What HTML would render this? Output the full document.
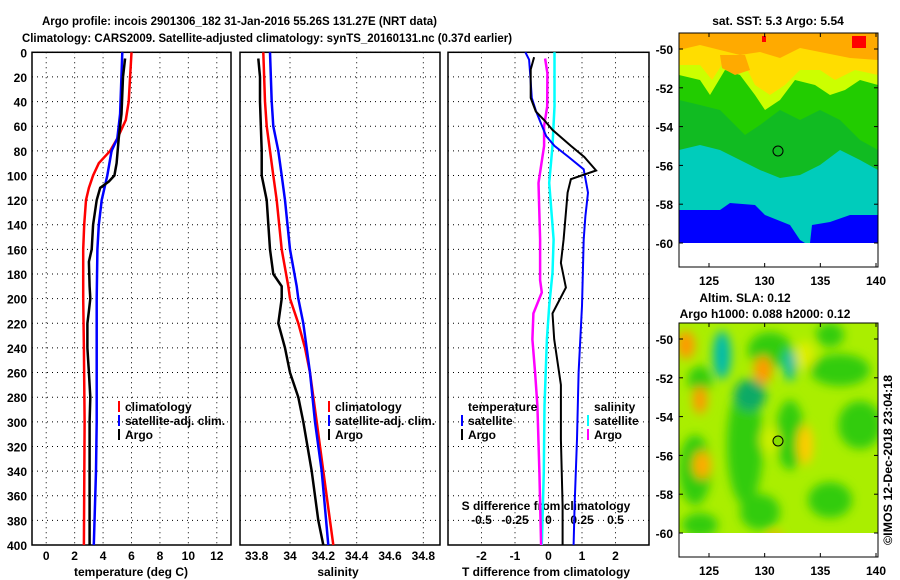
<!DOCTYPE html>
<html><head><meta charset="utf-8"><style>
body{margin:0;background:#fff;width:900px;height:580px;overflow:hidden}
svg{display:block}
text{font-family:"Liberation Sans",sans-serif;font-weight:bold;font-size:12px;fill:#000}
</style></head><body>
<svg id="chart" width="900" height="580" viewBox="0 0 900 580" xmlns="http://www.w3.org/2000/svg">
<defs>
<filter id="blur" x="-30%" y="-30%" width="160%" height="160%"><feGaussianBlur stdDeviation="5"/></filter>
<clipPath id="clipTop"><rect x="679" y="33" width="199" height="210"/></clipPath>
<clipPath id="clipBot"><rect x="679" y="323" width="199" height="210"/></clipPath>
</defs>
<text x="42" y="25" textLength="395" lengthAdjust="spacingAndGlyphs" font-size="13">Argo profile: incois 2901306_182 31-Jan-2016 55.26S 131.27E (NRT data)</text>
<text x="22" y="42" textLength="490" lengthAdjust="spacingAndGlyphs" font-size="13">Climatology: CARS2009. Satellite-adjusted climatology: synTS_20160131.nc (0.37d earlier)</text>

<!-- top map -->
<g clip-path="url(#clipTop)">
<rect x="679" y="33" width="199" height="210" fill="#00ccbb"/>
<path d="M679 33H878V170L860 160L840 150L820 165L800 175L780 178L760 170L740 160L720 150L700 145L679 150Z" fill="#11bb22"/>
<path d="M679 33H878V150L860 140L840 120L820 110L800 120L780 110L760 125L745 135L730 120L720 110L700 105L679 100Z" fill="#22cc00"/>
<path d="M679 33H878V85L860 80L845 90L830 95L815 85L795 80L780 100L765 110L755 95L740 75L725 70L710 95L700 80L679 75Z" fill="#ccff00"/>
<path d="M679 33H878V75L855 70L835 80L820 70L800 70L785 85L770 95L755 85L745 65L725 60L712 80L700 65L679 65Z" fill="#ffdd00"/>
<path d="M679 33H878V60L850 58L820 52L800 48L780 58L760 52L740 55L720 50L700 45L679 50Z" fill="#ffaa00"/>
<path d="M720 55L745 55L750 70L735 75L722 68Z" fill="#ffaa00"/>
<rect x="852" y="36" width="14" height="12" fill="#ff0000"/>
<rect x="762" y="36" width="4" height="6" fill="#ff0000"/>
<path d="M679 210L720 210L730 203L755 205L765 215L790 225L800 240L805 243L679 243Z" fill="#0000ff"/>
<path d="M810 243L812 225L830 222L850 215L878 215L878 243Z" fill="#0000ff"/>
<circle cx="778" cy="151" r="5" fill="none" stroke="#000" stroke-width="1"/>
</g>
<rect x="679" y="33" width="199" height="234" fill="none" stroke="#000"/>
<text x="778" y="25" text-anchor="middle">sat. SST: 5.3 Argo: 5.54</text>

<!-- bottom map -->
<g clip-path="url(#clipBot)">
<rect x="679" y="323" width="199" height="210" fill="#aaee00"/>
<g filter="url(#blur)">
<ellipse cx="695" cy="470" rx="16" ry="35" fill="#33cc11"/>
<ellipse cx="745" cy="445" rx="18" ry="60" fill="#33cc11"/>
<ellipse cx="790" cy="435" rx="14" ry="35" fill="#33cc11"/>
<ellipse cx="770" cy="350" rx="22" ry="18" fill="#33cc11"/>
<ellipse cx="840" cy="370" rx="30" ry="16" fill="#33cc11"/>
<ellipse cx="860" cy="425" rx="22" ry="24" fill="#33cc11"/>
<ellipse cx="830" cy="500" rx="22" ry="18" fill="#33cc11"/>
<ellipse cx="760" cy="512" rx="20" ry="18" fill="#33cc11"/>
<ellipse cx="700" cy="525" rx="18" ry="12" fill="#33cc11"/>
<ellipse cx="700" cy="380" rx="12" ry="14" fill="#33cc11"/>
<ellipse cx="830" cy="335" rx="14" ry="12" fill="#33cc11"/>
<ellipse cx="750" cy="395" rx="16" ry="16" fill="#11aa66"/>
<ellipse cx="722" cy="355" rx="9" ry="24" fill="#00bbaa"/>
<ellipse cx="790" cy="365" rx="6" ry="16" fill="#00bbaa"/>
<ellipse cx="686" cy="345" rx="9" ry="14" fill="#ff9900"/>
<ellipse cx="700" cy="400" rx="7" ry="14" fill="#ff9900"/>
<ellipse cx="702" cy="465" rx="9" ry="14" fill="#ffaa00"/>
<ellipse cx="763" cy="370" rx="9" ry="14" fill="#ff9900"/>
<ellipse cx="805" cy="445" rx="8" ry="20" fill="#ffcc00"/>
<ellipse cx="775" cy="540" rx="8" ry="8" fill="#ffaa00"/>
<ellipse cx="805" cy="355" rx="10" ry="14" fill="#ddee00"/>
<ellipse cx="770" cy="440" rx="10" ry="14" fill="#ccf000"/>
</g>
<circle cx="778" cy="441" r="5" fill="#88dd00" stroke="#000" stroke-width="1"/>
</g>
<rect x="679" y="323" width="199" height="234" fill="none" stroke="#000"/>
<text x="745" y="302" text-anchor="middle">Altim. SLA: 0.12</text>
<text x="765" y="318" text-anchor="middle">Argo h1000: 0.088 h2000: 0.12</text>
<text x="0" y="0" font-weight="normal" transform="translate(892,545) rotate(-90)" textLength="170" lengthAdjust="spacingAndGlyphs">©IMOS 12-Dec-2018 23:04:18</text>
</svg>
<script>
// depth levels and series values
const tDepth=[0,20,40,55,70,80,90,100,110,120,140,160,200,240,300,400];
const tClim=[6.0,5.9,5.8,5.6,5.0,4.5,3.7,3.3,3.0,2.8,2.67,2.6,2.6,2.65,2.7,2.65];
const tSatDepth=[0,50,70,80,100,120,140,160,200,300,340,400];
const tSat=[5.35,5.2,5.0,4.6,4.3,3.9,3.7,3.6,3.55,3.55,3.5,3.35];
const tArgoDepth=[5,20,50,70,90,100,105,110,120,140,160,170,190,200,210,220,240,260,280,300,400];
const tArgo=[5.55,5.4,5.3,5.1,4.95,4.8,4.4,3.8,3.55,3.3,3.2,3.0,3.05,3.1,3.0,2.9,2.9,3.0,3.1,3.05,3.05];
const sArgoDepth=[5,20,40,80,100,120,160,180,190,200,220,240,260,280,300,340,380,400];
const sArgo=[33.81,33.82,33.82,33.83,33.83,33.86,33.88,33.9,33.95,33.95,33.93,33.97,34.0,34.05,34.08,34.13,34.17,34.2];
const sClimDepth=[0,40,60,80,100,120,160,190,200,220,240,260,300,340,400];
const sClim=[33.84,33.85,33.86,33.88,33.9,33.92,33.95,33.99,34.0,34.05,34.09,34.12,34.16,34.2,34.26];
const sSatDepth=[0,40,60,80,100,120,160,190,200,220,260,300,340,400];
const sSat=[33.88,33.89,33.9,33.93,33.95,33.97,34.0,34.04,34.05,34.08,34.12,34.15,34.19,34.23];
const dTSatDepth=[0,6,17,37,48,58,68,76,85,95,114,133,152,206,260,314,368,400];
const dTSat=[-0.69,-0.58,-0.55,-0.5,-0.37,-0.22,-0.07,0.18,0.6,1.05,1.18,1.1,1.05,1.0,0.9,0.85,0.78,0.75];
const dTArgoDepth=[4,14,37,48,55,63,76,85,96,103,114,152,171,191,212,233,270,314,368,400];
const dTArgo=[-0.43,-0.53,-0.53,-0.38,-0.13,0.12,0.67,1.07,1.42,0.67,0.57,0.45,0.37,0.52,0.12,0.17,0.37,0.37,0.42,0.42];
const dSSatDepth=[0,44,76,106,152,179,206,233,287,341,400];
const dSSat=[0.045,0.045,0.03,0.005,0.038,0.03,0.005,-0.012,-0.03,-0.035,-0.05];
const dSArgoDepth=[5,17,44,60,76,106,152,185,195,212,233,260,287,341,400];
const dSArgo=[-0.025,-0.008,-0.01,-0.033,-0.033,-0.075,-0.063,-0.063,-0.05,-0.113,-0.12,-0.1,-0.083,-0.068,-0.055];
const depthTicks=[0,20,40,60,80,100,120,140,160,180,200,220,240,260,280,300,320,340,360,380,400];
const tTicks=[0,2,4,6,8,10,12];
const sTicks=[33.8,34,34.2,34.4,34.6,34.8];
const sTickLabels=["33.8","34","34.2","34.4","34.6","34.8"];
const dTTicks=[-2,-1,0,1,2];
const dSTicks=[-0.5,-0.25,0,0.25,0.5];
const latTicks=[-50,-52,-54,-56,-58,-60];
const lonTicks=[125,130,135,140];

const svg=document.getElementById('chart');
const NS='http://www.w3.org/2000/svg';
function mk(tag,at,parent){const e=document.createElementNS(NS,tag);for(const k in at)e.setAttribute(k,at[k]);(parent||svg).appendChild(e);return e;}
const Y0=52.3,Y1=545;
function yD(d){return Y0+(Y1-Y0)*d/400;}
function lin(d0,d1,p0,p1){return v=>p0+(v-d0)*(p1-p0)/(d1-d0);}
const panels=[
 {x0:32,x1:231,x:lin(-1,13,32,231),name:'temperature'},
 {x0:240,x1:440,x:lin(33.7,34.9,240,440),name:'salinity'},
 {x0:448,x1:649,x:lin(-3,3,448,649),name:'difference'}];
const xS=lin(-0.75,0.75,448,649);

panels.forEach((p,i)=>{
 const g=mk('g',{});
 
 
 depthTicks.forEach(d=>{
  const l=mk('line',{x1:p.x0,x2:p.x1,y1:yD(d),y2:yD(d),stroke:'#000','stroke-width':1,'stroke-dasharray':'1,4'},g);
  
  
 });
 let vt=i==0?tTicks:i==1?[34,34.4,34.8]:dTTicks;
 vt.forEach(v=>{
  const l=mk('line',{x1:p.x(v),x2:p.x(v),y1:Y0,y2:Y1,stroke:'#000','stroke-width':1,'stroke-dasharray':'1,4'},g);
  
  
 });
 const f=mk('rect',{x:p.x0,y:Y0,width:p.x1-p.x0,height:Y1-Y0,fill:'none',stroke:'#000','stroke-width':1.5},g);
 
 
});
depthTicks.forEach(d=>{
 const t=mk('text',{x:27,y:yD(d)+5,'text-anchor':'end'});
 t.textContent=d;
 
 
});
tTicks.forEach(v=>{const t=mk('text',{x:panels[0].x(v),y:560,'text-anchor':'middle'});t.textContent=v;
 
 });
sTicks.forEach((v,i)=>{const t=mk('text',{x:panels[1].x(v),y:560,'text-anchor':'middle'});t.textContent=sTickLabels[i];
 
 });
dTTicks.forEach(v=>{const t=mk('text',{x:panels[2].x(v),y:560,'text-anchor':'middle'});t.textContent=v;
 
 });
dSTicks.forEach(v=>{const t=mk('text',{x:xS(v),y:524,'text-anchor':'middle'});t.textContent=v;
 
 });
[['temperature (deg C)',131,576,'x-axis-title-temperature'],['salinity',338,576,'x-axis-title-salinity'],['T difference from climatology',546,576,'x-axis-title-t-diff'],['S difference from climatology',546,510,'x-axis-title-s-diff']].forEach(a=>{
 const t=mk('text',{x:a[1],y:a[2],'text-anchor':'middle'});t.textContent=a[0];
 
 
});
function line(xf,vals,depths,color,w,name){
 const pts=vals.map((v,i)=>xf(v).toFixed(1)+','+yD(depths[i]).toFixed(1)).join(' ');
 const l=mk('polyline',{points:pts,fill:'none',stroke:color,'stroke-width':w});
 
 
}
line(panels[0].x,tClim,tDepth,'#ff0000',2.5,'temperature-climatology-line');
line(panels[0].x,tSat,tSatDepth,'#0000ff',2.5,'temperature-satellite-line');
line(panels[0].x,tArgo,tArgoDepth,'#000',2.5,'temperature-argo-line');
line(panels[1].x,sClim,sClimDepth,'#ff0000',2.5,'salinity-climatology-line');
line(panels[1].x,sSat,sSatDepth,'#0000ff',2.5,'salinity-satellite-line');
line(panels[1].x,sArgo,sArgoDepth,'#000',2.5,'salinity-argo-line');
line(xS,dSSat,dSSatDepth,'#00ffff',2.5,'s-diff-satellite-line');
line(xS,dSArgo,dSArgoDepth,'#ff00ff',2.5,'s-diff-argo-line');
line(panels[2].x,dTSat,dTSatDepth,'#0000ff',2,'t-diff-satellite-line');
line(panels[2].x,dTArgo,dTArgoDepth,'#000',2,'t-diff-argo-line');
function leg(x,y,color,label,name){
 if(color){const b=mk('rect',{x:x-7,y:y-10,width:2,height:11,fill:color});
  
  }
 const t=mk('text',{x:x,y:y});t.textContent=label;
 
 
}
leg(125,411,'#ff0000','climatology','legend-climatology');
leg(125,425,'#0000ff','satellite-adj. clim.','legend-satellite-adj');
leg(125,439,'#000','Argo','legend-argo');
leg(335,411,'#ff0000','climatology','legend-climatology-2');
leg(335,425,'#0000ff','satellite-adj. clim.','legend-satellite-adj-2');
leg(335,439,'#000','Argo','legend-argo-2');
leg(468,411,null,'temperature','legend-temperature-header');
leg(468,425,'#0000ff','satellite','legend-t-satellite');
leg(468,439,'#000','Argo','legend-t-argo');
leg(594,411,null,'salinity','legend-salinity-header');
leg(594,425,'#00ffff','satellite','legend-s-satellite');
leg(594,439,'#ff00ff','Argo','legend-s-argo');
const latY=[lin(-50,-60,49,243),lin(-50,-60,339,533)];
const lonX=lin(125,140,709,876);
[[33,267,285],[323,557,575]].forEach((m,k)=>{
 latTicks.forEach(v=>{
  const t=mk('text',{x:673,y:latY[k](v)+5,'text-anchor':'end'});t.textContent=v;
  
  
  mk('line',{x1:679,x2:683,y1:latY[k](v),y2:latY[k](v),stroke:'#000'});
  mk('line',{x1:874,x2:878,y1:latY[k](v),y2:latY[k](v),stroke:'#000'});
 });
 lonTicks.forEach(v=>{
  const t=mk('text',{x:lonX(v),y:m[2],'text-anchor':'middle'});t.textContent=v;
  
  
  mk('line',{x1:lonX(v),x2:lonX(v),y1:m[0],y2:m[0]+4,stroke:'#000'});
  mk('line',{x1:lonX(v),x2:lonX(v),y1:m[1]-4,y2:m[1],stroke:'#000'});
 });
});
</script>
</body></html>
